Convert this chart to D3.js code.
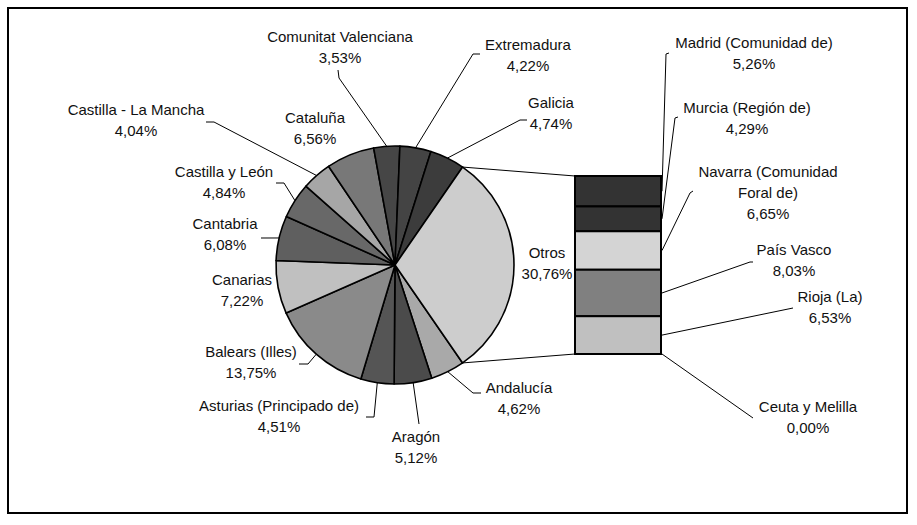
<!DOCTYPE html>
<html>
<head>
<meta charset="utf-8">
<script src="https://cdn.jsdelivr.net/npm/d3@7"></script>
<style>
  body { margin: 0; background: #fff; }
  text { font-family: "Liberation Sans", Arial, sans-serif; font-size: 15px; fill: #111; }
</style>
</head>
<body>
<svg id="chart" width="917" height="525"></svg>
<script>
// datos del grafico
var regiones = ["Andalucía", "Aragón", "Asturias (Principado de)", "Balears (Illes)", "Canarias",
  "Cantabria", "Castilla y León", "Castilla - La Mancha", "Cataluña", "Comunitat Valenciana",
  "Extremadura", "Galicia"];
var valores = [4.62, 5.12, 4.51, 13.75, 7.22, 6.08, 4.84, 4.04, 6.56, 3.53, 4.22, 4.74];
var otrasRegiones = ["Madrid (Comunidad de)", "Murcia (Región de)", "Navarra (Comunidad Foral de)",
  "País Vasco", "Rioja (La)", "Ceuta y Melilla"];
var otrosValores = [5.26, 4.29, 6.65, 8.03, 6.53, 0.00];
var nombreOtros = "Otros";

// estilos
var coloresPie = ["#a9a9a9", "#4b4b4b", "#555555", "#8a8a8a", "#c0c0c0", "#5f5f5f", "#686868",
  "#a6a6a6", "#787878", "#464646", "#444444", "#3c3c3c", "#cdcdcd"];
var coloresBarra = ["#333333", "#333333", "#d4d4d4", "#808080", "#c0c0c0", "#c0c0c0"];

// posiciones de etiquetas (x centro, y linea base) y lineas guia
var etiquetas = {
  "Andalucía": { x: 519, y: 393, codo: [473, 393], cola: [481, 393] },
  "Aragón": { x: 416, y: 442, codo: [419, 424] },
  "Asturias (Principado de)": { x: 279, y: 411, codo: [374, 417], cola: [366, 417] },
  "Balears (Illes)": { x: 251, y: 357, codo: [308, 364], cola: [299, 364] },
  "Canarias": { x: 242, y: 285 },
  "Cantabria": { x: 225, y: 229, codo: [261, 238] },
  "Castilla y León": { x: 224, y: 177, codo: [284, 183], cola: [276, 183] },
  "Castilla - La Mancha": { x: 136, y: 115, codo: [214, 122], cola: [206, 122] },
  "Cataluña": { x: 315, y: 123 },
  "Comunitat Valenciana": { x: 340, y: 42, codo: [339, 78], cola: [338, 70] },
  "Extremadura": { x: 528, y: 50, codo: [473, 54], cola: [480, 54] },
  "Galicia": { x: 551, y: 108, codo: [520, 120], cola: [527, 120] },
  "Otros": { x: 547, y: 258 },
  "Madrid (Comunidad de)": { x: 754, y: 48, codo: [666, 54], cola: [669, 53] },
  "Murcia (Región de)": { x: 747, y: 113, codo: [675, 118], cola: [678, 117] },
  "Navarra (Comunidad Foral de)": { x: 768, y: 177, codo: [690, 193], cola: [693, 191],
    lineas: ["Navarra (Comunidad", "Foral de)"] },
  "País Vasco": { x: 794, y: 255, codo: [750, 262], cola: [753, 262] },
  "Rioja (La)": { x: 830, y: 302, codo: [793, 308] },
  "Ceuta y Melilla": { x: 808, y: 412, codo: [753, 418] }
};

var svg = d3.select("#chart");
var fmt = function(v) { return d3.format(".2f")(v).replace(".", ",") + "%"; };

// marco
svg.append("rect")
  .attr("x", 8).attr("y", 8)
  .attr("width", 899).attr("height", 505)
  .attr("fill", "none").attr("stroke", "#000").attr("stroke-width", 2);

var cx = 395, cy = 265, r = 119;
var totalOtros = d3.sum(otrosValores);
var total = d3.sum(valores) + totalOtros;
var a0 = Math.PI / 2 + Math.PI * totalOtros / total;

var datosPie = regiones.map(function(n, i) { return { nombre: n, v: valores[i] }; });
datosPie.push({ nombre: nombreOtros, v: totalOtros });

var pie = d3.pie().sort(null).value(function(d) { return d.v; })
  .startAngle(a0).endAngle(a0 + 2 * Math.PI);
var arc = d3.arc().innerRadius(0).outerRadius(r);
var arcos = pie(datosPie);

var gPie = svg.append("g").attr("transform", "translate(" + cx + "," + cy + ")");
gPie.selectAll("path")
  .data(arcos)
  .enter()
  .append("path")
  .attr("d", arc)
  .attr("fill", function(d, i) { return coloresPie[i]; })
  .attr("stroke", "#000")
  .attr("stroke-width", 1.6)
  .attr("stroke-linejoin", "round");

function puntoArco(a) {
  return [cx + r * Math.sin(a), cy - r * Math.cos(a)];
}

// barra de "Otros"
var bx = 575, bw = 86;
var y = d3.scaleLinear().domain([0, totalOtros]).range([176, 354]);
var acum = 0;
var datosBarra = otrasRegiones.map(function(n, i) {
  var d = { nombre: n, v: otrosValores[i], y0: acum, y1: acum + otrosValores[i] };
  acum += otrosValores[i];
  return d;
});

// lineas de conexion pie -> barra
var otrosArc = arcos[arcos.length - 1];
var pA = puntoArco(otrosArc.startAngle), pB = puntoArco(otrosArc.endAngle);
svg.append("line").attr("x1", pA[0]).attr("y1", pA[1]).attr("x2", bx).attr("y2", y(0))
  .attr("stroke", "#000").attr("stroke-width", 1);
svg.append("line").attr("x1", pB[0]).attr("y1", pB[1]).attr("x2", bx).attr("y2", y(totalOtros))
  .attr("stroke", "#000").attr("stroke-width", 1);

svg.append("g").selectAll("rect")
  .data(datosBarra.filter(function(d) { return d.v > 0; }))
  .enter()
  .append("rect")
  .attr("x", bx)
  .attr("y", function(d) { return y(d.y0); })
  .attr("width", bw)
  .attr("height", function(d) { return y(d.y1) - y(d.y0); })
  .attr("fill", function(d, i) { return coloresBarra[i]; })
  .attr("stroke", "#000")
  .attr("stroke-width", 2);

// lineas guia
var guias = svg.append("g").attr("fill", "none").attr("stroke", "#000").attr("stroke-width", 1);
function guia(inicio, e) {
  if (!e.codo) return;
  var pts = [inicio, e.codo];
  if (e.cola) pts.push(e.cola);
  guias.append("path").attr("d", d3.line()(pts));
}
arcos.forEach(function(d) {
  var e = etiquetas[d.data.nombre];
  guia(puntoArco((d.startAngle + d.endAngle) / 2), e);
});
datosBarra.forEach(function(d) {
  var e = etiquetas[d.nombre];
  guia([bx + bw + 1, y((d.y0 + d.y1) / 2)], e);
});

// etiquetas
function etiqueta(nombre, v) {
  var e = etiquetas[nombre];
  var lineas = (e.lineas || [nombre]).concat([fmt(v)]);
  var t = svg.append("text").attr("text-anchor", "middle");
  lineas.forEach(function(l, i) {
    t.append("tspan").attr("x", e.x).attr("y", e.y + i * 21).text(l);
  });
}
datosPie.forEach(function(d) { etiqueta(d.nombre, d.v); });
datosBarra.forEach(function(d) { etiqueta(d.nombre, d.v); });
</script>
</body>
</html>
